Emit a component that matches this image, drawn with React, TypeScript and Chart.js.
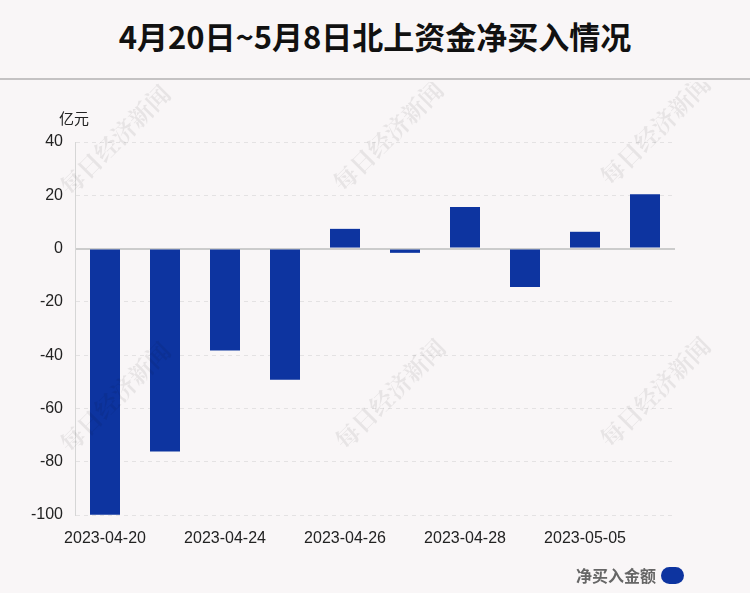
import { useEffect, useRef } from "react";
import { Chart, registerables } from "chart.js";

Chart.register(...registerables);

// 交易日 & 北上资金净买入（亿元）
const dates = [
  "2023-04-20",
  "2023-04-21",
  "2023-04-24",
  "2023-04-25",
  "2023-04-26",
  "2023-04-27",
  "2023-04-28",
  "2023-05-04",
  "2023-05-05",
  "2023-05-08",
];
const netBuy = [-99.9, -76.2, -38.3, -49.2, 7.4, -1.6, 15.6, -14.4, 6.3, 20.4];
const yTicks = [40, 20, 0, -20, -40, -60, -80, -100];

const TITLE = "4月20日~5月8日北上资金净买入情况";
const UNIT = "亿元";
const SERIES = "净买入金额";
const WATERMARK = "每日经济新闻";
const BAR_COLOR = "#0d34a0";
const BG = "#f9f6f7";

const FONT = "'Liberation Sans', Arial, 'Noto Sans CJK SC', sans-serif";

// 水印 + 单位
const extrasPlugin = {
  id: "extras",
  afterDraw(chart: Chart) {
    const { ctx, chartArea } = chart;
    ctx.save();
    ctx.fillStyle = "#222";
    ctx.font = `15px ${FONT}`;
    ctx.textAlign = "center";
    ctx.textBaseline = "middle";
    ctx.fillText(UNIT, chartArea.left - 1, chartArea.top - 22);

    ctx.fillStyle = "rgba(0,0,0,0.07)";
    ctx.font = `bold 24px 'Noto Serif CJK SC', 'Noto Sans CJK SC', serif`;
    const spots = [
      [115, 58],
      [388, 54],
      [655, 48],
      [115, 315],
      [390, 312],
      [655, 310],
    ];
    for (const [x, y] of spots) {
      ctx.save();
      ctx.translate(x, y);
      ctx.rotate(-Math.PI / 4);
      ctx.fillText(WATERMARK, 0, 0);
      ctx.restore();
    }
    ctx.restore();
  },
};

const NetBuyChart = () => {
  const canvasRef = useRef<HTMLCanvasElement>(null);

  useEffect(() => {
    if (!canvasRef.current) return;
    const chart = new Chart(canvasRef.current, {
      type: "bar",
      data: {
        labels: dates,
        datasets: [
          {
            label: SERIES,
            data: netBuy,
            backgroundColor: BAR_COLOR,
            barPercentage: 0.5,
            categoryPercentage: 1,
          },
        ],
      },
      options: {
        animation: false,
        responsive: false,
        devicePixelRatio: 1,
        layout: { padding: { top: 60, right: 75, left: 0, bottom: 0 } },
        plugins: {
          legend: { display: false },
          tooltip: { enabled: false },
        },
        scales: {
          x: {
            grid: { display: false },
            border: { display: false },
            ticks: {
              color: "#222",
              font: { size: 16, family: FONT },
              padding: 6,
              maxRotation: 0,
              autoSkip: false,
              callback: (_v, i) => (i % 2 === 0 ? dates[i] : ""),
            },
            afterFit: (scale) => {
              scale.height = 78;
            },
          },
          y: {
            min: -100,
            max: 40,
            afterBuildTicks: (scale) => {
              scale.ticks = yTicks.map((value) => ({ value }));
            },
            grid: {
              drawTicks: false,
              color: (c) => (c.tick && c.tick.value === 0 ? "#cccccc" : "#e4e2e3"),
              lineWidth: (c) => (c.tick && c.tick.value === 0 ? 2 : 1),
            },
            border: {
              display: true,
              color: "#d6d6d6",
              width: 1,
              dash: (c) => (c.tick && c.tick.value === 0 ? [] : c.tick ? [4, 4] : []),
            },
            ticks: {
              color: "#222",
              font: { size: 16, family: FONT },
              padding: 12,
            },
            afterFit: (scale) => {
              scale.width = 75;
            },
          },
        },
      },
      plugins: [extrasPlugin],
    });
    return () => {
      chart.destroy();
    };
  }, []);

  return (
    <canvas
      ref={canvasRef}
      width={750}
      height={511}
      style={{ position: "absolute", left: 0, top: 82, width: 750, height: 511 }}
    ></canvas>
  );
};

export default function App() {
  useEffect(() => {
    document.body.style.margin = "0";
  }, []);
  return (
    <div
      style={{
        position: "relative",
        width: 750,
        height: 593,
        background: BG,
        overflow: "hidden",
        fontFamily: FONT,
      }}
    >
      <div
        style={{
          position: "absolute",
          left: 0,
          top: 0,
          width: 750,
          height: 80,
          borderBottom: "2px solid #c4c2c3",
          display: "flex",
          alignItems: "center",
          justifyContent: "center",
          fontWeight: "bold",
          fontSize: 31,
          color: "#111",
          fontFamily: "'Noto Sans CJK SC', sans-serif",
          paddingBottom: 8,
          boxSizing: "border-box",
        }}
      >
        {TITLE}
      </div>
      <NetBuyChart></NetBuyChart>
      <div
        style={{
          position: "absolute",
          right: 66,
          top: 563,
          display: "flex",
          alignItems: "center",
          gap: 5,
          color: "#666",
          fontWeight: "bold",
          fontSize: 16,
          fontFamily: "'Noto Sans CJK SC', sans-serif",
        }}
      >
        <span>{SERIES}</span>
        <span
          style={{
            display: "inline-block",
            width: 23,
            height: 17,
            borderRadius: 9,
            background: BAR_COLOR,
          }}
        ></span>
      </div>
    </div>
  );
}
